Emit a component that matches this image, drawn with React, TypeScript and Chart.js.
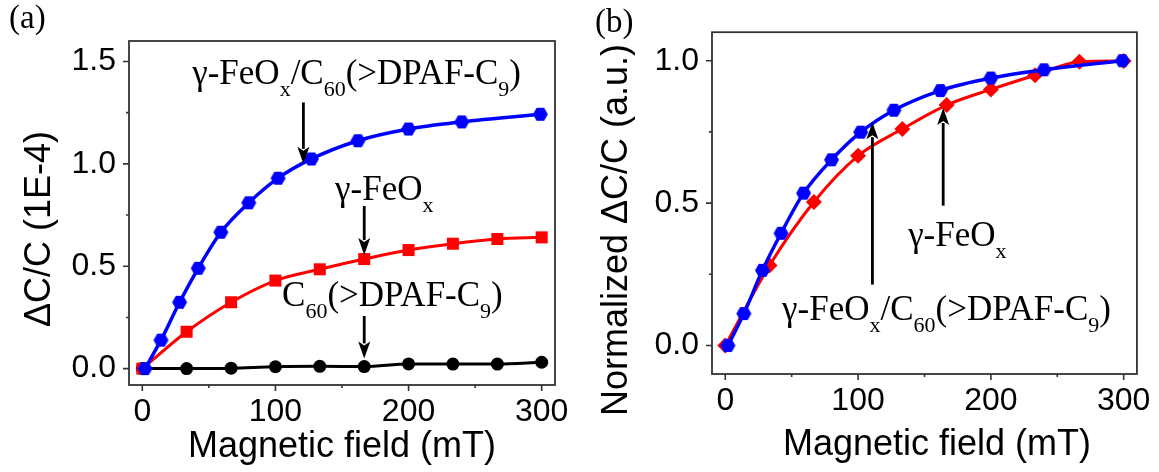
import React, { useEffect, useRef } from "react";
import { Chart, registerables } from "chart.js";

Chart.register(...registerables);

// ---------- data ----------
const fieldHybrid = [2, 14, 28, 42, 59, 80, 102, 127, 162, 200, 240, 299];
const fieldSingle = [0, 33.3, 66.7, 100, 133.3, 166.7, 200, 233.3, 266.7, 300];

const hybridA = [0, 0.139, 0.324, 0.49, 0.666, 0.81, 0.93, 1.024, 1.113, 1.17, 1.205, 1.242];
const feoxA = [0, 0.18, 0.324, 0.43, 0.485, 0.535, 0.579, 0.61, 0.633, 0.641];
const c60A = [0, 0, 0.002, 0.009, 0.011, 0.01, 0.023, 0.022, 0.022, 0.031];

const hybridB = [0, 0.112, 0.264, 0.394, 0.535, 0.652, 0.749, 0.826, 0.895, 0.939, 0.968, 1.0];
const feoxB = [0, 0.281, 0.504, 0.666, 0.76, 0.844, 0.899, 0.949, 0.996, 0.999];

const xMajor = [0, 100, 200, 300];
const xMinor = [50, 150, 250];
const yMajorA = [0, 0.5, 1.0, 1.5];
const yMinorA = [0.25, 0.75, 1.25];
const yMajorB = [0, 0.5, 1.0];
const yMinorB = [0.25, 0.75];

// ---------- styles ----------
const SANS = "'Liberation Sans', Arial, sans-serif";
const SERIF = "'Liberation Serif', 'Times New Roman', serif";
const MAIN_FONT = `35px ${SERIF}`;
const SUB_FONT = `22px ${SERIF}`;
const SUB_SHIFT = 12;
const AXIS_COLOR = "#333";

type Part = { t: string; sub?: boolean };
type Label = { x: number; y: number; parts: Part[] };
type Arrow = { x: number; from: number; to: number };

const hybridParts: Part[] = [
  { t: "γ-FeO" }, { t: "x", sub: true }, { t: "/C" }, { t: "60", sub: true },
  { t: "(>DPAF-C" }, { t: "9", sub: true }, { t: ")" },
];
const feoxParts: Part[] = [{ t: "γ-FeO" }, { t: "x", sub: true }];
const c60Parts: Part[] = [
  { t: "C" }, { t: "60", sub: true }, { t: "(>DPAF-C" }, { t: "9", sub: true }, { t: ")" },
];

function makeHexagon(r: number, color: string): HTMLCanvasElement {
  const c = document.createElement("canvas");
  const s = Math.ceil(2 * r + 2);
  c.width = s;
  c.height = s;
  const ctx = c.getContext("2d")!;
  ctx.fillStyle = color;
  ctx.beginPath();
  for (let i = 0; i < 6; i++) {
    const a = (Math.PI / 3) * i;
    const x = s / 2 + r * Math.cos(a);
    const y = s / 2 + r * Math.sin(a);
    if (i === 0) ctx.moveTo(x, y);
    else ctx.lineTo(x, y);
  }
  ctx.closePath();
  ctx.fill();
  return c;
}

function drawRich(ctx: CanvasRenderingContext2D, x: number, y: number, parts: Part[]) {
  let cx = x;
  ctx.textAlign = "left";
  ctx.textBaseline = "alphabetic";
  ctx.fillStyle = "#000";
  for (const p of parts) {
    ctx.font = p.sub ? SUB_FONT : MAIN_FONT;
    ctx.fillText(p.t, cx, p.sub ? y + SUB_SHIFT : y);
    cx += ctx.measureText(p.t).width;
  }
}

function drawArrow(ctx: CanvasRenderingContext2D, x: number, y1: number, y2: number) {
  const dir = Math.sign(y2 - y1);
  const headL = 17;
  const headW = 6;
  ctx.save();
  ctx.strokeStyle = "#000";
  ctx.fillStyle = "#000";
  ctx.lineWidth = 2.8;
  ctx.beginPath();
  ctx.moveTo(x, y1);
  ctx.lineTo(x, y2 - dir * headL + dir * 2);
  ctx.stroke();
  ctx.beginPath();
  ctx.moveTo(x, y2);
  ctx.lineTo(x - headW, y2 - dir * headL);
  ctx.lineTo(x, y2 - dir * (headL - 4));
  ctx.lineTo(x + headW, y2 - dir * headL);
  ctx.closePath();
  ctx.fill();
  ctx.restore();
}

type PanelCfg = {
  panel: string;
  panelPos: [number, number];
  yTitle: string;
  yTitlePos: [number, number];
  xTitle: string;
  xTitlePos: [number, number];
  yMinor: number[];
  yMajor: number[];
  labels: Label[];
  arrows: Arrow[];
};

function makeOverlay(cfg: PanelCfg) {
  return {
    id: "overlay",
    beforeDatasetsDraw(chart: any) {
      const { ctx, chartArea: a, scales } = chart;
      const xs = scales.x;
      const ys = scales.y;
      ctx.save();
      ctx.strokeStyle = AXIS_COLOR;
      ctx.lineWidth = 1.8;
      ctx.strokeRect(a.left, a.top, a.right - a.left, a.bottom - a.top);
      ctx.lineWidth = 1.6;
      ctx.beginPath();
      for (const v of xMajor) {
        const p = xs.getPixelForValue(v);
        ctx.moveTo(p, a.bottom);
        ctx.lineTo(p, a.bottom + 6);
      }
      for (const v of xMinor) {
        const p = xs.getPixelForValue(v);
        ctx.moveTo(p, a.bottom);
        ctx.lineTo(p, a.bottom + 3);
      }
      for (const v of cfg.yMajor) {
        const p = ys.getPixelForValue(v);
        ctx.moveTo(a.left, p);
        ctx.lineTo(a.left - 6, p);
      }
      for (const v of cfg.yMinor) {
        const p = ys.getPixelForValue(v);
        ctx.moveTo(a.left, p);
        ctx.lineTo(a.left - 3, p);
      }
      ctx.stroke();
      ctx.restore();
    },
    afterDatasetsDraw(chart: any) {
      const { ctx, scales } = chart;
      const xs = scales.x;
      const ys = scales.y;
      ctx.save();
      for (const ar of cfg.arrows) {
        drawArrow(ctx, xs.getPixelForValue(ar.x), ys.getPixelForValue(ar.from), ys.getPixelForValue(ar.to));
      }
      for (const l of cfg.labels) {
        drawRich(ctx, xs.getPixelForValue(l.x), ys.getPixelForValue(l.y), l.parts);
      }
      ctx.restore();
    },
    afterDraw(chart: any) {
      const { ctx } = chart;
      ctx.save();
      ctx.fillStyle = "#000";
      ctx.font = `36px ${SANS}`;
      ctx.textAlign = "center";
      ctx.textBaseline = "alphabetic";
      ctx.fillText(cfg.xTitle, cfg.xTitlePos[0], cfg.xTitlePos[1]);
      ctx.save();
      ctx.translate(cfg.yTitlePos[0], cfg.yTitlePos[1]);
      ctx.rotate(-Math.PI / 2);
      ctx.fillText(cfg.yTitle, 0, 0);
      ctx.restore();
      ctx.font = `33px ${SERIF}`;
      ctx.textAlign = "left";
      ctx.fillText(cfg.panel, cfg.panelPos[0], cfg.panelPos[1]);
      ctx.restore();
    },
  };
}

function pts(xs: number[], ys: number[]) {
  return xs.map((x, i) => ({ x, y: ys[i] }));
}

function buildConfig(
  datasets: any[],
  yMin: number,
  yMax: number,
  yMajor: number[],
  area: { yWidth: number; xHeight: number; top: number; right: number },
  overlay: any
): any {
  return {
    type: "line",
    data: { datasets },
    options: {
      animation: false,
      responsive: false,
      devicePixelRatio: 1,
      layout: { padding: { top: area.top, right: area.right, left: 0, bottom: 0 } },
      plugins: { legend: { display: false }, tooltip: { enabled: false } },
      elements: { line: { cubicInterpolationMode: "monotone" } },
      scales: {
        x: {
          type: "linear",
          min: -10,
          max: 310,
          grid: { display: false, drawTicks: false },
          border: { display: false },
          afterBuildTicks: (s: any) => {
            s.ticks = xMajor.map((v) => ({ value: v }));
          },
          afterFit: (s: any) => {
            s.height = area.xHeight;
          },
          ticks: {
            padding: 8,
            color: "#000",
            font: { family: SANS, size: 32 },
            maxRotation: 0,
            callback: (v: any) => String(v),
          },
        },
        y: {
          type: "linear",
          min: yMin,
          max: yMax,
          grid: { display: false, drawTicks: false },
          border: { display: false },
          afterBuildTicks: (s: any) => {
            s.ticks = yMajor.map((v) => ({ value: v }));
          },
          afterFit: (s: any) => {
            s.width = area.yWidth;
          },
          ticks: {
            padding: 13,
            color: "#000",
            font: { family: SANS, size: 32 },
            callback: (v: any) => Number(v).toFixed(1),
          },
        },
      },
    },
    plugins: [overlay],
  };
}

export default function App() {
  const refA = useRef<HTMLCanvasElement>(null);
  const refB = useRef<HTMLCanvasElement>(null);

  useEffect(() => {
    const hexA = makeHexagon(7.5, "#0000ff");
    const hexB = makeHexagon(7.5, "#0000ff");

    const overlayA = makeOverlay({
      panel: "(a)",
      panelPos: [9, 28],
      yTitle: "ΔC/C (1E-4)",
      yTitlePos: [50, 229],
      xTitle: "Magnetic field (mT)",
      xTitlePos: [342, 457],
      yMajor: yMajorA,
      yMinor: yMinorA,
      labels: [
        { x: 37.5, y: 1.39, parts: hybridParts },
        { x: 144.8, y: 0.824, parts: feoxParts },
        { x: 105, y: 0.305, parts: c60Parts },
      ],
      arrows: [
        { x: 121, from: 1.3, to: 1.0 },
        { x: 166.7, from: 0.794, to: 0.555 },
        { x: 166.7, from: 0.257, to: 0.05 },
      ],
    });

    const overlayB = makeOverlay({
      panel: "(b)",
      panelPos: [15, 32],
      yTitle: "Normalized ΔC/C (a.u.)",
      yTitlePos: [47, 230],
      xTitle: "Magnetic field (mT)",
      xTitlePos: [357, 455],
      yMajor: yMajorB,
      yMinor: yMinorB,
      labels: [
        { x: 137.7, y: 0.351, parts: feoxParts },
        { x: 42.8, y: 0.089, parts: hybridParts },
      ],
      arrows: [
        { x: 164.1, from: 0.491, to: 0.834 },
        { x: 110.8, from: 0.214, to: 0.784 },
      ],
    });

    const chartA = new Chart(
      refA.current!,
      buildConfig(
        [
          {
            data: pts(fieldHybrid, hybridA),
            borderColor: "#0000ff",
            backgroundColor: "#0000ff",
            borderWidth: 3.5,
            pointStyle: hexA,
            pointRadius: 7,
          },
          {
            data: pts(fieldSingle, feoxA),
            borderColor: "#ff0000",
            backgroundColor: "#ff0000",
            borderWidth: 3,
            pointStyle: "rect",
            pointRadius: 8.5,
            pointBorderWidth: 0,
          },
          {
            data: pts(fieldSingle, c60A),
            borderColor: "#000000",
            backgroundColor: "#000000",
            borderWidth: 3,
            pointStyle: "circle",
            pointRadius: 6.5,
            pointBorderWidth: 0,
          },
        ],
        -0.08,
        1.6,
        yMajorA,
        { yWidth: 129, xHeight: 87, top: 41, right: 25 },
        overlayA
      )
    );

    const chartB = new Chart(
      refB.current!,
      buildConfig(
        [
          {
            data: pts(fieldHybrid, hybridB),
            borderColor: "#0000ff",
            backgroundColor: "#0000ff",
            borderWidth: 3.5,
            pointStyle: hexB,
            pointRadius: 7,
          },
          {
            data: pts(fieldSingle, feoxB),
            borderColor: "#ff0000",
            backgroundColor: "#ff0000",
            borderWidth: 3,
            pointStyle: "rectRot",
            pointRadius: 8,
            pointBorderWidth: 0,
          },
        ],
        -0.1,
        1.1,
        yMajorB,
        { yWidth: 132, xHeight: 98, top: 31, right: 21 },
        overlayB
      )
    );

    return () => {
      chartA.destroy();
      chartB.destroy();
    };
  }, []);

  return (
    <div style={{ position: "absolute", left: 0, top: 0, width: 1159, height: 472, background: "#fff" }}>
      <canvas ref={refA} width={580} height={472} style={{ position: "absolute", left: 0, top: 0 }} />
      <canvas ref={refB} width={579} height={472} style={{ position: "absolute", left: 580, top: 0 }} />
    </div>
  );
}
